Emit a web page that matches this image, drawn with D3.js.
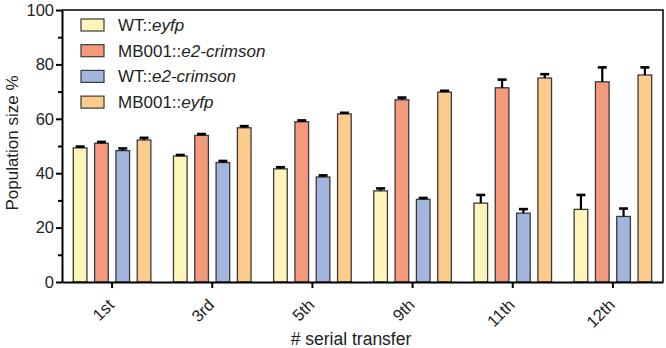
<!DOCTYPE html>
<html>
<head>
<meta charset="utf-8">
<script src="https://cdn.jsdelivr.net/npm/d3@7"></script>
<style>
  body { margin: 0; background: #fff; }
  text { font-family: "Liberation Sans", Arial, sans-serif; fill: #222; }
</style>
</head>
<body>
<script>
const width = 666;
const height = 348;

// transfers on the x axis
const transfers = ["1st", "3rd", "5th", "9th", "11th", "12th"];

// strains, order as in legend
const strains = ["wtEyfp", "mbCrimson", "wtCrimson", "mbEyfp"];
const strainPrefix = ["WT::", "MB001::", "WT::", "MB001::"];
const strainGene = ["eyfp", "e2-crimson", "e2-crimson", "eyfp"];
const strainColor = ["#FFF5B9", "#F4997B", "#A3B5DE", "#FDCB8B"];

// mean population size %
const wtEyfp    = [49.3, 46.3, 41.6, 33.5, 29.0, 26.7];
const mbCrimson = [51.0, 53.9, 58.9, 67.0, 71.4, 73.6];
const wtCrimson = [48.3, 43.9, 38.6, 30.4, 25.3, 24.1];
const mbEyfp    = [52.2, 56.7, 61.8, 69.8, 75.0, 76.1];

// standard deviation (upper whisker only)
const wtEyfpErr    = [0.5, 0.4, 0.6, 0.9, 3.0, 5.3];
const mbCrimsonErr = [0.5, 0.5, 0.5, 0.8, 3.0, 5.3];
const wtCrimsonErr = [0.8, 0.6, 0.6, 0.5, 1.5, 2.9];
const mbEyfpErr    = [0.8, 0.6, 0.4, 0.5, 1.4, 2.8];

const yTicks = [0, 20, 40, 60, 80, 100];
const yMinorTicks = [10, 30, 50, 70, 90];

const values = [wtEyfp, mbCrimson, wtCrimson, mbEyfp];
const errors = [wtEyfpErr, mbCrimsonErr, wtCrimsonErr, mbEyfpErr];

const PLOT_LEFT = 62, PLOT_RIGHT = 663, PLOT_TOP = 10, PLOT_BOTTOM = 282;

const svg = d3.select("body").append("svg")
    .attr("width", width)
    .attr("height", height);

const x0 = d3.scaleBand().domain(transfers).range([PLOT_LEFT, PLOT_RIGHT]).padding(0);
const x1 = d3.scaleBand().domain(strains).range([0, x0.bandwidth()])
    .paddingInner(0.36).paddingOuter(0.53);
const y = d3.scaleLinear().domain([0, 100]).range([PLOT_BOTTOM, PLOT_TOP]);

// bars
const groups = svg.append("g").selectAll("g")
    .data(transfers)
    .enter().append("g")
    .attr("transform", d => `translate(${x0(d)},0)`);

groups.each(function(t, ti) {
    const g = d3.select(this);
    strains.forEach((s, si) => {
        const v = values[si][ti];
        const e = errors[si][ti];
        const bx = x1(s);
        const bw = x1.bandwidth();
        g.append("rect")
            .attr("x", bx)
            .attr("y", y(v))
            .attr("width", bw)
            .attr("height", y(0) - y(v))
            .attr("fill", strainColor[si])
            .attr("stroke", "#3a3a3a")
            .attr("stroke-width", 1.3);
        // error bar, upper half only
        const cx = bx + bw / 2;
        g.append("line")
            .attr("x1", cx).attr("x2", cx)
            .attr("y1", y(v)).attr("y2", y(v + e))
            .attr("stroke", "#000").attr("stroke-width", 2.2);
        g.append("line")
            .attr("x1", cx - 4.5).attr("x2", cx + 4.5)
            .attr("y1", y(v + e)).attr("y2", y(v + e))
            .attr("stroke", "#000").attr("stroke-width", 2.6);
    });
});

// frame top and right
svg.append("path")
    .attr("d", `M${PLOT_LEFT},${PLOT_TOP}H${PLOT_RIGHT}V${PLOT_BOTTOM}`)
    .attr("fill", "none")
    .attr("stroke", "#000")
    .attr("stroke-width", 1.5);

// y axis
svg.append("g")
    .attr("transform", `translate(${PLOT_LEFT},0)`)
    .call(d3.axisLeft(y).tickValues(yTicks).tickSize(6).tickSizeOuter(0).tickPadding(2));
svg.append("g")
    .attr("transform", `translate(${PLOT_LEFT},0)`)
    .call(d3.axisLeft(y).tickValues(yMinorTicks).tickSize(4).tickFormat(""))
    .call(g => g.select(".domain").remove());

// x axis
const xAxis = svg.append("g")
    .attr("transform", `translate(0,${PLOT_BOTTOM})`)
    .call(d3.axisBottom(x0).tickSize(6).tickSizeOuter(0));
xAxis.selectAll(".tick text")
    .attr("x", 0)
    .attr("y", 0)
    .attr("dy", "0.35em")
    .attr("text-anchor", "end")
    .attr("transform", "translate(-1,20) rotate(-45)");

svg.selectAll(".domain, .tick line")
    .attr("stroke", "#000")
    .attr("stroke-width", 2);
svg.selectAll(".tick text")
    .style("font-size", "16.5px")
    .attr("fill", "#222");

// axis titles
svg.append("text")
    .attr("transform", "translate(18,143) rotate(-90)")
    .attr("text-anchor", "middle")
    .style("font-size", "17px")
    .text("Population size %");

svg.append("text")
    .attr("x", 351)
    .attr("y", 345)
    .attr("text-anchor", "middle")
    .style("font-size", "17.5px")
    .text("# serial transfer");

// legend
const legend = svg.append("g");
strains.forEach((s, i) => {
    const ly = 25 + i * 25.7;
    legend.append("rect")
        .attr("x", 81).attr("y", ly - 6)
        .attr("width", 23).attr("height", 12)
        .attr("fill", strainColor[i])
        .attr("stroke", "#3a3a3a")
        .attr("stroke-width", 1.2);
    const t = legend.append("text")
        .attr("x", 118).attr("y", ly + 6)
        .style("font-size", "17px");
    t.append("tspan").text(strainPrefix[i]);
    t.append("tspan").style("font-style", "italic").text(strainGene[i]);
});
</script>
</body>
</html>
